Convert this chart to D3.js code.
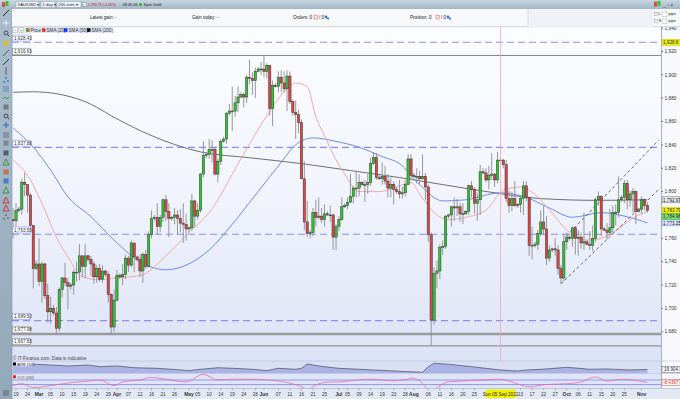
<!DOCTYPE html>
<html>
<head>
<meta charset="utf-8">
<script src="https://cdn.jsdelivr.net/npm/d3@7"></script>
<style>
  body { margin: 0; background: #fff; overflow: hidden; }
  svg { display: block; font-family: "Liberation Sans", Arial, sans-serif; }
</style>
</head>
<body>
<svg id="chart" width="680" height="399"></svg>
<script>
// XAU/USD daily bars (Sun-Fri sessions, 2021): date, open, high, low, close
const bars = [
  ["02-18",1776,1786,1760,1775],["02-19",1775,1790,1770,1784],["02-21",1784,1787,1782,1785],
  ["02-22",1785,1811,1780,1808],["02-23",1808,1816,1796,1806],["02-24",1806,1806,1782,1797],
  ["02-25",1797,1799,1767,1771],["02-26",1771,1771,1717,1734],["02-28",1734,1741,1733,1738],
  ["03-01",1738,1760,1719,1723],["03-02",1723,1740,1705,1738],["03-03",1738,1739,1708,1711],
  ["03-04",1711,1721,1688,1697],["03-05",1697,1710,1687,1700],["03-07",1700,1703,1694,1696],
  ["03-08",1696,1701,1678,1683],["03-09",1683,1718,1680,1716],["03-10",1716,1727,1709,1726],
  ["03-11",1726,1739,1719,1722],["03-12",1722,1726,1699,1719],["03-14",1719,1722,1716,1720],
  ["03-15",1720,1733,1712,1731],["03-16",1731,1740,1723,1731],["03-17",1731,1755,1724,1745],
  ["03-18",1745,1745,1727,1736],["03-19",1736,1755,1726,1745],["03-21",1745,1746,1740,1742],
  ["03-22",1742,1745,1728,1738],["03-23",1738,1740,1721,1727],["03-24",1727,1737,1722,1734],
  ["03-25",1734,1738,1723,1725],["03-26",1725,1737,1722,1732],["03-28",1732,1733,1727,1729],
  ["03-29",1729,1732,1705,1712],["03-30",1712,1713,1677.5,1684],["03-31",1684,1716,1680,1707],
  ["04-01",1707,1733,1706,1728],["04-04",1728,1730,1725,1727],["04-05",1727,1738,1720,1729],
  ["04-06",1729,1746,1725,1743],["04-07",1743,1745,1731,1737],["04-08",1737,1758,1735,1756],
  ["04-09",1756,1756,1731,1744],["04-11",1744,1745,1740,1742],["04-12",1742,1746,1727,1732],
  ["04-13",1732,1748,1722,1746],["04-14",1746,1750,1734,1736],["04-15",1736,1766,1735,1763],
  ["04-16",1763,1784,1760,1777],["04-18",1777,1780,1775,1778],["04-19",1778,1790,1763,1770],
  ["04-20",1770,1780,1765,1778],["04-21",1778,1794,1774,1793],["04-22",1793,1797,1775,1783],
  ["04-23",1783,1790,1761,1777],["04-25",1777,1779,1775,1778],["04-26",1778,1786,1772,1780],
  ["04-27",1780,1784,1763,1777],["04-28",1777,1785,1765,1773],["04-29",1773,1790,1756,1772],
  ["04-30",1772,1781,1758,1768],["05-02",1768,1770,1765,1769],["05-03",1769,1798,1767,1792],
  ["05-04",1792,1793,1770,1779],["05-05",1779,1790,1776,1784],["05-06",1784,1816,1782,1815],
  ["05-07",1815,1843,1812,1831],["05-09",1831,1834,1829,1832],["05-10",1832,1845,1828,1836],
  ["05-11",1836,1844,1825,1836],["05-12",1836,1838,1814,1815],["05-13",1815,1828,1808,1826],
  ["05-14",1826,1845,1823,1843],["05-16",1843,1847,1842,1845],["05-17",1845,1868,1841,1867],
  ["05-18",1867,1875,1865,1869],["05-19",1869,1890,1852,1869],["05-20",1869,1882,1864,1876],
  ["05-21",1876,1890,1868,1881],["05-23",1881,1885,1880,1883],["05-24",1883,1885,1872,1881],
  ["05-25",1881,1900,1876,1898],["05-26",1898,1913,1892,1897],["05-27",1897,1902,1883,1895],
  ["05-28",1895,1906,1880,1903],["05-30",1903,1907,1902,1905],["05-31",1905,1911,1900,1905],
  ["06-01",1905,1916.63,1898,1903],["06-02",1903,1910,1897,1908],["06-03",1908,1908,1865,1871],
  ["06-04",1871,1895,1856,1891],["06-06",1891,1893,1889,1890],["06-07",1890,1903,1885,1898],
  ["06-08",1898,1904,1885,1893],["06-09",1893,1903,1885,1888],["06-10",1888,1904,1869,1899],
  ["06-11",1899,1903,1875,1877],["06-13",1877,1879,1865,1868],["06-14",1868,1878,1845,1866],
  ["06-15",1866,1870,1850,1859],["06-16",1859,1862,1811,1811],["06-17",1811,1826,1767,1774],
  ["06-18",1774,1792,1761,1764],["06-20",1764,1767,1760,1765],["06-21",1765,1786,1762,1782],
  ["06-22",1782,1793,1770,1778],["06-23",1778,1795,1776,1779],["06-24",1779,1786,1773,1776],
  ["06-25",1776,1789,1770,1781],["06-27",1781,1783,1779,1780],["06-28",1780,1788,1774,1780],
  ["06-29",1780,1781,1750,1761],["06-30",1761,1772,1750,1770],["07-01",1770,1779,1766,1776],
  ["07-02",1776,1795,1775,1787],["07-04",1787,1790,1786,1788],["07-05",1788,1795,1785,1791],
  ["07-06",1791,1815,1790,1796],["07-07",1796,1805,1790,1803],["07-08",1803,1818,1795,1803],
  ["07-09",1803,1815,1796,1808],["07-11",1808,1809,1805,1806],["07-12",1806,1810,1791,1806],
  ["07-13",1806,1815,1798,1808],["07-14",1808,1829,1805,1824],["07-15",1824,1834,1823,1829],
  ["07-16",1829,1833,1810,1812],["07-18",1812,1814,1810,1811],["07-19",1811,1825,1806,1813],
  ["07-20",1813,1822,1806,1809],["07-21",1809,1815,1795,1803],["07-22",1803,1812,1795,1806],
  ["07-23",1806,1809,1789,1802],["07-25",1802,1804,1798,1800],["07-26",1800,1810,1794,1798],
  ["07-27",1798,1804,1794,1799],["07-28",1799,1810,1796,1806],["07-29",1806,1832,1806,1828],
  ["07-30",1828,1832,1810,1814],["08-01",1814,1816,1812,1813],["08-02",1813,1820,1807,1813],
  ["08-03",1813,1818,1806,1811],["08-04",1811,1832,1810,1813],["08-05",1813,1816,1793,1804],
  ["08-06",1804,1806,1757,1763],["08-08",1763,1765,1667.83,1690],["08-09",1690,1735,1686,1730],
  ["08-10",1730,1741,1717,1732],["08-11",1732,1755,1725,1752],["08-12",1752,1758,1746,1753],
  ["08-13",1753,1780,1751,1779],["08-15",1779,1781,1777,1780],["08-16",1780,1788,1770,1787],
  ["08-17",1787,1795,1775,1786],["08-18",1786,1794,1779,1787],["08-19",1787,1790,1774,1781],
  ["08-20",1781,1790,1772,1781],["08-22",1781,1784,1780,1783],["08-23",1783,1806,1780,1805],
  ["08-24",1805,1809,1795,1802],["08-25",1802,1804,1781,1790],["08-26",1790,1799,1775,1793],
  ["08-27",1793,1823,1780,1817],["08-29",1817,1820,1815,1816],["08-30",1816,1820,1808,1810],
  ["08-31",1810,1822,1802,1814],["09-01",1814,1833,1810,1815],["09-02",1815,1816,1804,1810],
  ["09-03",1810,1834,1807,1827],["09-05",1827,1829,1826,1827],["09-06",1827,1828,1820,1823],
  ["09-07",1823,1827,1791,1794],["09-08",1794,1801,1782,1788],["09-09",1788,1800,1783,1794],
  ["09-10",1794,1809,1787,1788],["09-12",1788,1790,1786,1789],["09-13",1789,1797,1782,1794],
  ["09-14",1794,1809,1780,1805],["09-15",1805,1809,1792,1795],["09-16",1795,1795,1745,1754],
  ["09-17",1754,1770,1742,1754],["09-19",1754,1757,1752,1755],["09-20",1755,1767,1750,1764],
  ["09-21",1764,1784,1762,1774],["09-22",1774,1788,1763,1768],["09-23",1768,1779,1737,1743],
  ["09-24",1743,1754,1740,1750],["09-26",1750,1752,1748,1751],["09-27",1751,1760,1745,1750],
  ["09-28",1750,1754,1729,1734],["09-29",1734,1737,1721,1726],["09-30",1726,1764,1723,1757],
  ["10-01",1757,1765,1750,1761],["10-03",1761,1763,1758,1760],["10-04",1760,1770,1753,1769],
  ["10-05",1769,1770,1746,1760],["10-06",1760,1767,1745,1761],["10-07",1761,1765,1751,1756],
  ["10-08",1756,1782,1750,1757],["10-10",1757,1759,1754,1755],["10-11",1755,1766,1750,1754],
  ["10-12",1754,1771,1749,1760],["10-13",1760,1795,1757,1793],["10-14",1793,1800,1788,1796],
  ["10-15",1796,1797,1762,1768],["10-17",1768,1770,1766,1767],["10-18",1767,1773,1759,1765],
  ["10-19",1765,1785,1763,1769],["10-20",1769,1788,1765,1782],["10-21",1782,1789,1771,1782],
  ["10-22",1782,1813,1778,1793],["10-24",1793,1797,1791,1795],["10-25",1795,1810,1790,1807],
  ["10-26",1807,1810,1785,1793],["10-27",1793,1801,1787,1798],["10-28",1798,1803,1782,1800],
  ["10-29",1800,1801,1772,1783],["10-31",1783,1786,1782,1785],["11-01",1785,1796,1781,1793],
  ["11-02",1793,1794,1784,1788],["11-03",1788,1791,1782,1783.79]
];

// moving averages
const sma20 = [["02-18",1827],["02-25",1810],["03-02",1790],["03-08",1761],["03-12",1744],["03-18",1727],
  ["03-25",1724.5],["03-31",1726],["04-12",1728],["04-22",1745],["05-02",1765],["05-10",1782],["05-23",1828],
  ["06-02",1865],["06-10",1888],["06-14",1893],["06-18",1890],["06-22",1864],["06-25",1848],["06-29",1832],
  ["07-04",1815],["07-09",1800],["07-18",1800],["07-26",1805],["07-30",1808],["08-03",1798],["08-09",1782],
  ["08-15",1776],["08-22",1778],["08-30",1784],["09-06",1801],["09-13",1804],["09-17",1799.5],["09-26",1781.5],
  ["10-01",1767],["10-10",1758.5],["10-15",1760],["10-31",1780],["11-03",1783]];
const sma50 = [["02-18",1854.5],["02-26",1838],["03-05",1818.5],["03-12",1795.5],["03-22",1778.5],["03-31",1758.5],
  ["04-12",1740],["04-22",1733],["04-30",1737],["05-10",1750],["05-19",1772],["05-28",1797],["06-07",1822],
  ["06-14",1840],["06-21",1846],["06-30",1843],["07-09",1838],["07-19",1830],["07-26",1824],["08-03",1806],
  ["08-12",1792],["08-22",1793],["09-05",1799],["09-15",1795],["09-24",1786],["10-04",1778],["10-15",1782],
  ["10-25",1779],["11-03",1773.25]];
const sma200 = [["02-18",1885],["02-26",1885.5],["03-18",1878],["04-04",1861],["04-15",1849],["05-06",1834],
  ["05-26",1829],["06-16",1824],["07-06",1818],["07-26",1812],["08-12",1806],["08-29",1800.5],["09-21",1794],
  ["10-14",1792.5],["11-03",1792.97]];

const atr14 = [["02-18",30.2],["02-28",28.5],["03-12",25.7],["03-21",27.3],["03-25",24.5],["04-01",25.7],
  ["04-09",22.8],["04-19",21.8],["04-25",20.2],["05-02",17.9],["05-06",20.2],["05-13",22.8],["05-19",21.8],
  ["05-27",20.2],["06-02",17.9],["06-07",21.8],["06-14",20.2],["06-16",21.8],["06-18",29],["06-23",25.7],
  ["06-29",22.8],["07-01",21.8],["07-15",19],["07-29",16.2],["08-04",15.2],["08-06",24.5],["08-09",30.2],
  ["08-15",28.5],["08-24",24.5],["09-05",19],["09-12",17.3],["09-15",19],["09-23",20.7],["10-01",23.5],
  ["10-11",20.2],["10-18",20.7],["10-27",19],["11-03",19.904]];
const cci20 = [["02-18",-150],["02-22",-65],["02-26",-235],["03-05",-150],["03-12",-35],["03-21",50],
  ["03-25",100],["03-31",-150],["04-05",15],["04-12",100],["04-16",215],["04-22",135],["04-30",15],
  ["05-07",350],["05-13",100],["05-19",135],["05-27",135],["06-02",100],["06-09",15],["06-16",-200],
  ["06-18",-315],["06-23",-65],["06-29",15],["07-01",15],["07-08",100],["07-15",135],["07-22",65],
  ["07-29",135],["07-30",185],["08-03",65],["08-08",-400],["08-11",-150],["08-15",15],["08-22",65],
  ["08-29",100],["09-05",135],["09-10",-35],["09-16",-200],["09-23",-100],["10-01",-65],["10-07",15],
  ["10-13",235],["10-18",50],["10-24",135],["10-28",100],["11-03",-8.4367]];

const dashedLevels = [1927.9, 1837.88, 1763.50, 1689.50];
const dashedLabels = ["1,928.43", "1,837.88", "1,763.50", "1,689.50"];
const solidLevels = [1916.63, 1677.98, 1667.83];
const solidLabels = ["1,916.63", "1,677.98", "1,667.83"];

const priceTicks = [1680, 1700, 1720, 1740, 1760, 1780, 1800, 1820, 1840, 1860, 1880, 1900, 1920, 1940];
const hideTicks = [1780];

const tickDates = ["02-19","02-24","03-01","03-05","03-10","03-15","03-19","03-24","03-29","04-01","04-07",
  "04-12","04-16","04-21","04-26","05-02","05-05","05-10","05-14","05-19","05-24","05-28","06-01","06-07",
  "06-11","06-16","06-21","06-25","07-01","07-05","07-09","07-14","07-19","07-23","07-28","08-01","08-06",
  "08-11","08-16","08-20","08-25","09-13","09-17","09-22","09-27","10-01","10-06","10-11","10-15","10-20",
  "10-25","11-01"];
const tickLabels = ["19","24","Mar","05","10","15","19","24","29","Apr","07","12","16","21","26","May","05",
  "10","14","19","24","28","Jun","07","11","16","21","25","Jul","05","09","14","19","23","28","Aug","06",
  "11","16","20","25","13","17","22","27","Oct","06","11","15","20","25","Nov"];

// channel drawn on the chart: start date, price, end date, price
const trendLines = [["09-29", 1721, "11-03", 1792.4], ["10-01", 1762, "11-03", 1834]];

const crosshairDate = "09-05";
const crosshairLabel = "Sun 05 Sep 2021";

// value tags on the right edge
const tagValues = [1927.9, 1792.97, 1783.79, 1773.25];
const tagTexts = ["1,928.8", "1,792.97", "1,783.79", "1,773.25"];

const svg = d3.select("#chart");
const defs = svg.append("defs");

function vgrad(id, stops) {
  const g = defs.append("linearGradient").attr("id", id)
    .attr("x1", 0).attr("y1", 0).attr("x2", 0).attr("y2", 1);
  stops.forEach(s => g.append("stop").attr("offset", s[0]).attr("stop-color", s[1]));
}
vgrad("bgPlot", [[0, "#fcfdff"], [0.5, "#f1f4fc"], [1, "#dce3f6"]]);
vgrad("bgTop", [[0, "#c9d6e1"], [1, "#a2b6c6"]]);
vgrad("bgSell", [[0, "#f26a6a"], [1, "#c92a2a"]]);
vgrad("bgBuy", [[0, "#62d262"], [1, "#23a023"]]);
vgrad("bgTool", [[0, "#a9bccb"], [1, "#93a9ba"]]);

svg.append("rect").attr("width", 680).attr("height", 399).attr("fill", "#e6ebf6");

// ---------- scales
const L = 12, R = 661, T = 27, B = 361;
const x = d3.scaleBand().domain(bars.map(d => d[0])).range([11.68, 648.86]);
const step = x.step();
const cx = d => x(d) + step / 2;
const y = d3.scaleLinear().domain([1680, 1920]).range([331.7, 51.5]);

// ---------- plot background
svg.append("rect").attr("x", L).attr("y", T).attr("width", R - L).attr("height", B - T)
  .attr("fill", "url(#bgPlot)");
svg.append("rect").attr("x", R).attr("y", T).attr("width", 680 - R).attr("height", 388 - T)
  .attr("fill", "#f8f9fd");
svg.append("line").attr("x1", R + 0.5).attr("x2", R + 0.5).attr("y1", T).attr("y2", 388)
  .attr("stroke", "#a8b0c4");

defs.append("clipPath").attr("id", "clip").append("rect")
  .attr("x", L).attr("y", T + 6).attr("width", R - L).attr("height", 352 - T - 6);
const plot = svg.append("g").attr("clip-path", "url(#clip)");

// horizontal levels
plot.selectAll("line.dl").data(dashedLevels).join("line")
  .attr("x1", L).attr("x2", R).attr("y1", d => y(d)).attr("y2", d => y(d))
  .attr("stroke", "#8c8cf2").attr("stroke-width", 1.1).attr("stroke-dasharray", "7,4");
plot.selectAll("line.sl").data(solidLevels).join("line")
  .attr("x1", L).attr("x2", R).attr("y1", d => y(d)).attr("y2", d => y(d))
  .attr("stroke", (d, i) => i === 1 ? "#9a9a9a" : "#808080")
  .attr("stroke-width", (d, i) => i === 1 ? 2.6 : 1);

// crosshair
const chX = Math.round(cx(crosshairDate)) + 0.5;
svg.append("line").attr("x1", chX).attr("x2", chX).attr("y1", T).attr("y2", 388)
  .attr("stroke", "#f2a6b8").attr("stroke-width", 0.8);

// moving averages
const maLine = d3.line().x(d => cx(d[0])).y(d => y(d[1])).curve(d3.curveMonotoneX);
plot.append("path").attr("d", maLine(sma200)).attr("fill", "none").attr("stroke", "#6e6e6e").attr("stroke-width", 1);
plot.append("path").attr("d", maLine(sma50)).attr("fill", "none").attr("stroke", "#5d7ff0").attr("stroke-width", 0.9);
plot.append("path").attr("d", maLine(sma20)).attr("fill", "none").attr("stroke", "#f0a0a0").attr("stroke-width", 0.9);

// channel lines, extended to the right edge
trendLines.forEach(t => {
  const x1 = cx(t[0]), y1 = y(t[1]), x2 = cx(t[2]), y2 = y(t[3]);
  const k = (y2 - y1) / (x2 - x1), xe = R - 2;
  plot.append("line").attr("x1", x1).attr("y1", y1).attr("x2", xe).attr("y2", y1 + k * (xe - x1))
    .attr("stroke", "#555").attr("stroke-width", 0.9).attr("stroke-dasharray", "3,2.5");
});

// candles
const cg = plot.append("g");
cg.selectAll("line").data(bars).join("line")
  .attr("x1", d => cx(d[0])).attr("x2", d => cx(d[0]))
  .attr("y1", d => y(d[2])).attr("y2", d => y(d[3]))
  .attr("stroke", "#8c8c8c").attr("stroke-width", 0.9);
cg.selectAll("rect").data(bars).join("rect")
  .attr("x", d => cx(d[0]) - 1.15).attr("width", 2.3)
  .attr("y", d => y(Math.max(d[1], d[4])))
  .attr("height", d => Math.max(0.8, Math.abs(y(d[1]) - y(d[4]))))
  .attr("fill", d => d[4] >= d[1] ? "#2ec72e" : "#e04646")
  .attr("stroke", "#333").attr("stroke-width", 0.5);

// left level labels
function levelTag(v, txt, border) {
  const ty = y(v);
  svg.append("rect").attr("x", 12.5).attr("y", ty - 7.2).attr("width", 18).attr("height", 6)
    .attr("fill", "#fff").attr("stroke", border).attr("stroke-width", 0.6);
  svg.append("text").attr("x", 14).attr("y", ty - 2.6).attr("font-size", 4.6).attr("fill", "#333").text(txt);
}
dashedLevels.forEach((v, i) => levelTag(v, dashedLabels[i], "#8c8cf2"));
solidLevels.forEach((v, i) => levelTag(v, solidLabels[i], "#888"));

// right price axis
const ax = svg.append("g");
priceTicks.filter(p => !hideTicks.includes(p)).forEach(p => {
  ax.append("line").attr("x1", R).attr("x2", R + 2).attr("y1", y(p)).attr("y2", y(p)).attr("stroke", "#777");
  ax.append("text").attr("x", R + 3.5).attr("y", y(p) + 1.7).attr("font-size", 4.8).attr("fill", "#333")
    .text(d3.format(",")(p));
});
const tagFill = ["#f4f400", "#e9ebf1", "#f4f400", "#dfe6ff"];
const tagStroke = ["#c8c800", "#666", "#c8c800", "#5d7ff0"];
tagValues.forEach((v, i) => {
  ax.append("rect").attr("x", R + 1).attr("y", y(v) - 3).attr("width", 18).attr("height", 6)
    .attr("fill", tagFill[i]).attr("stroke", tagStroke[i]).attr("stroke-width", 0.5);
  ax.append("text").attr("x", R + 2).attr("y", y(v) + 1.7).attr("font-size", 4.6).attr("fill", "#222").text(tagTexts[i]);
});
ax.append("rect").attr("x", R + 1).attr("y", y(1783.79) + 3.2).attr("width", 18).attr("height", 6)
  .attr("fill", "#7ee07e").attr("stroke", "#3a9a3a").attr("stroke-width", 0.5);
ax.append("text").attr("x", R + 2).attr("y", y(1783.79) + 7.9).attr("font-size", 4.6).attr("fill", "#222").text("1,784.96");

// legend strip
const lg = svg.append("g");
lg.append("rect").attr("x", 12).attr("y", 27).attr("width", 100).attr("height", 6).attr("fill", "#dfe6f6");
[[13, "−"], [19, "+"]].forEach(b => {
  lg.append("rect").attr("x", b[0]).attr("y", 27.8).attr("width", 4.5).attr("height", 4.5)
    .attr("fill", "#fff").attr("stroke", "#999").attr("stroke-width", 0.4);
  lg.append("text").attr("x", b[0] + 2.25).attr("y", 31.6).attr("text-anchor", "middle")
    .attr("font-size", 4.5).attr("fill", b[1] === "+" ? "#2a2" : "#c22").text(b[1]);
});
const legendItems = [[26, "Price", "#e04646"], [42, "SMA (20)", "#e83030"], [64, "SMA (50)", "#1030ff"], [87, "SMA (200)", "#000"]];
legendItems.forEach((it, i) => {
  lg.append("rect").attr("x", it[0]).attr("y", 28.3).attr("width", 3.5).attr("height", 3.5).attr("fill", it[2]);
  if (i === 0) lg.append("rect").attr("x", it[0]).attr("y", 28.3).attr("width", 1.75).attr("height", 3.5).attr("fill", "#2ec72e");
  lg.append("text").attr("x", it[0] + 4.5).attr("y", 31.8).attr("font-size", 4.6).attr("fill", "#333").text(it[1]);
});

// footer note
svg.append("text").attr("x", 13).attr("y", 359.5).attr("font-size", 4.6).attr("fill", "#444")
  .text("© IT-Finance.com. Data is indicative");

// ---------- ATR panel
const atrY = d3.scaleLinear().domain([14, 34]).range([373, 361]);
svg.append("rect").attr("x", L).attr("y", 361).attr("width", R - L).attr("height", 12.5).attr("fill", "#d9dff4");
svg.append("line").attr("x1", L).attr("x2", 680).attr("y1", 361).attr("y2", 361).attr("stroke", "#b4bcd8").attr("stroke-width", 0.6);
const atrArea = d3.area().x(d => cx(d[0])).y0(373.3).y1(d => atrY(d[1]));
const atrLine = d3.line().x(d => cx(d[0])).y(d => atrY(d[1]));
svg.append("path").attr("d", atrArea(atr14)).attr("fill", "#abb3e6");
svg.append("path").attr("d", atrLine(atr14)).attr("fill", "none").attr("stroke", "#555a66").attr("stroke-width", 0.8);
svg.append("rect").attr("x", 12).attr("y", 361.5).attr("width", 21).attr("height", 5).attr("fill", "#e8ecf8").attr("stroke", "#aab").attr("stroke-width", 0.3);
svg.append("rect").attr("x", 13).attr("y", 362.5).attr("width", 3).attr("height", 3).attr("fill", "#000");
svg.append("text").attr("x", 17).attr("y", 365.7).attr("font-size", 4.4).attr("fill", "#333").text("ATR (14)");
svg.append("rect").attr("x", R + 1).attr("y", atrY(19.904) - 3).attr("width", 18).attr("height", 6)
  .attr("fill", "#fff").attr("stroke", "#555").attr("stroke-width", 0.5);
svg.append("text").attr("x", R + 3).attr("y", atrY(19.904) + 1.7).attr("font-size", 4.6).attr("fill", "#222").text("19.904");

// ---------- CCI panel
const cciY = d3.scaleLinear().domain([-100, 100]).range([384.5, 380]);
svg.append("rect").attr("x", L).attr("y", 373.5).attr("width", R - L).attr("height", 15).attr("fill", "#dfe5f7");
svg.append("line").attr("x1", L).attr("x2", 680).attr("y1", 373.5).attr("y2", 373.5).attr("stroke", "#b4bcd8").attr("stroke-width", 0.6);
[100, -100].forEach(v => svg.append("line").attr("x1", L).attr("x2", R).attr("y1", cciY(v)).attr("y2", cciY(v))
  .attr("stroke", "#7a86ff").attr("stroke-width", 0.8));
const cciLine = d3.line().x(d => cx(d[0])).y(d => cciY(d[1])).curve(d3.curveMonotoneX);
svg.append("path").attr("d", cciLine(cci20)).attr("fill", "none").attr("stroke", "#f06a98").attr("stroke-width", 0.8);
svg.append("rect").attr("x", 12).attr("y", 374.3).attr("width", 21).attr("height", 5).attr("fill", "#e8ecf8").attr("stroke", "#aab").attr("stroke-width", 0.3);
svg.append("rect").attr("x", 13).attr("y", 375.3).attr("width", 3).attr("height", 3).attr("fill", "#e82020");
svg.append("text").attr("x", 17).attr("y", 378.5).attr("font-size", 4.4).attr("fill", "#333").text("CCI (20)");
svg.append("rect").attr("x", R + 1).attr("y", cciY(-8.4367) - 3).attr("width", 18).attr("height", 6)
  .attr("fill", "#fff").attr("stroke", "#e04040").attr("stroke-width", 0.5);
svg.append("text").attr("x", R + 2).attr("y", cciY(-8.4367) + 1.7).attr("font-size", 4.6).attr("fill", "#d02020").text("-8.4367");

// ---------- date axis
svg.append("rect").attr("x", L).attr("y", 388.5).attr("width", 680 - L).attr("height", 10.5).attr("fill", "#e3e8f5");
svg.append("line").attr("x1", L).attr("x2", 680).attr("y1", 388.5).attr("y2", 388.5).attr("stroke", "#a8b0c4").attr("stroke-width", 0.6);
tickDates.forEach((d, i) => {
  const isMonth = /[A-Za-z]/.test(tickLabels[i]);
  svg.append("line").attr("x1", cx(d)).attr("x2", cx(d)).attr("y1", 388.5).attr("y2", 390.5).attr("stroke", "#777").attr("stroke-width", 0.5);
  svg.append("text").attr("x", cx(d)).attr("y", 396.3).attr("text-anchor", "middle")
    .attr("font-size", isMonth ? 4.9 : 4.6).attr("font-weight", isMonth ? "bold" : "normal")
    .attr("fill", "#333").text(tickLabels[i]);
});
svg.append("rect").attr("x", chX - 15).attr("y", 389.5).attr("width", 30).attr("height", 8.5).attr("fill", "#f2f200");
svg.append("text").attr("x", chX).attr("y", 395.6).attr("text-anchor", "middle").attr("font-size", 4.6)
  .attr("fill", "#222").text(crosshairLabel);

// ---------- left toolbar
svg.append("rect").attr("x", 0).attr("y", 9).attr("width", 12).attr("height", 390).attr("fill", "url(#bgTool)");
svg.append("line").attr("x1", 12).attr("x2", 12).attr("y1", 9).attr("y2", 399).attr("stroke", "#7d93a5").attr("stroke-width", 0.6);
const tools = [[13, "#222", "diag"], [23, "#eee", "plus"], [33, "#333", "glass"], [43, "#e8c000", "rect"],
  [53, "#556", "diag"], [62, "#333", "diag"], [71, "#556", "vline"], [80, "#2a8ae0", "dots"],
  [89, "#2a6ad0", "hline"], [98, "#2a9a2a", "wave"], [107, "#666", "rect"], [116, "#333", "glass"],
  [125, "#2a6ad0", "plus"], [135, "#445", "hline"], [143, "#777", "rect"], [153, "#345", "rect"],
  [162, "#2a9a2a", "tri"], [172, "#d06030", "rect"], [181, "#2a6ad0", "rect"], [190, "#2a9a2a", "tri"],
  [200, "#d02a2a", "tri"], [208, "#d02a2a", "tri"], [217, "#777", "dots"], [393, "#333", "hline"]];
tools.forEach(t => {
  const g = svg.append("g").attr("transform", `translate(6,${t[0]})`);
  if (t[2] === "diag") g.append("line").attr("x1", -3).attr("y1", 3).attr("x2", 3).attr("y2", -3).attr("stroke", t[1]).attr("stroke-width", 1);
  if (t[2] === "plus") { g.append("line").attr("x1", -3).attr("x2", 3).attr("stroke", t[1]); g.append("line").attr("y1", -3).attr("y2", 3).attr("stroke", t[1]); }
  if (t[2] === "glass") { g.append("circle").attr("r", 2).attr("fill", "none").attr("stroke", t[1]).attr("stroke-width", 0.8); g.append("line").attr("x1", 1.5).attr("y1", 1.5).attr("x2", 3.2).attr("y2", 3.2).attr("stroke", t[1]); }
  if (t[2] === "rect") g.append("rect").attr("x", -2.5).attr("y", -2.5).attr("width", 5).attr("height", 5).attr("fill", t[1]).attr("opacity", 0.75);
  if (t[2] === "vline") g.append("line").attr("y1", -3.5).attr("y2", 3.5).attr("stroke", t[1]).attr("stroke-width", 1);
  if (t[2] === "hline") [-2, 0, 2].forEach(v => g.append("line").attr("x1", -3).attr("x2", 3).attr("y1", v).attr("y2", v).attr("stroke", t[1]).attr("stroke-width", 0.6));
  if (t[2] === "dots") [[-2, 2], [0, -2], [2, 1]].forEach(p => g.append("circle").attr("cx", p[0]).attr("cy", p[1]).attr("r", 1.1).attr("fill", t[1]));
  if (t[2] === "wave") g.append("path").attr("d", "M-3,1 L-1,-1 L1,1 L3,-1").attr("fill", "none").attr("stroke", t[1]).attr("stroke-width", 0.9);
  if (t[2] === "tri") g.append("path").attr("d", "M-3,3 L0,-3 L3,3 Z").attr("fill", "none").attr("stroke", t[1]).attr("stroke-width", 0.9);
});

// ---------- header
svg.append("rect").attr("x", 0).attr("y", 0).attr("width", 680).attr("height", 9).attr("fill", "url(#bgTop)");
svg.append("rect").attr("x", 12).attr("y", 9).attr("width", 668).attr("height", 18).attr("fill", "#f6f8fa");
svg.append("line").attr("x1", 12).attr("x2", 680).attr("y1", 26.7).attr("y2", 26.7).attr("stroke", "#b3bfcc").attr("stroke-width", 0.6);
const hd = svg.append("g").attr("font-size", 4.6).attr("fill", "#222");
hd.append("rect").attr("x", 2).attr("y", 2).attr("width", 3).attr("height", 5).attr("fill", "#e04646");
hd.append("rect").attr("x", 5.5).attr("y", 1).attr("width", 3).attr("height", 5).attr("fill", "#2ec72e");
[[16, 23, "XAU/USD ▾", 4.2], [41, 14, "1 day ▾", 4.2], [57, 24, "200 units ▾", 4.0]].forEach(b => {
  hd.append("rect").attr("x", b[0]).attr("y", 1.5).attr("width", b[1]).attr("height", 6)
    .attr("fill", "#eef2f6").attr("stroke", "#7f93a4").attr("stroke-width", 0.4);
  hd.append("text").attr("x", b[0] + 1.5).attr("y", 6).attr("font-size", b[3]).text(b[2]);
});
hd.append("rect").attr("x", 83).attr("y", 2.5).attr("width", 3.5).attr("height", 3.5).attr("fill", "#fff").attr("stroke", "#666").attr("stroke-width", 0.4);
hd.append("text").attr("x", 88).attr("y", 6).attr("font-size", 3.5).attr("fill", "#d01818").text("1,783.79 (-0.26%)");
hd.append("text").attr("x", 122.5).attr("y", 6).attr("font-size", 3.9).text("08:45:46");
hd.append("circle").attr("cx", 140.5).attr("cy", 4.5).attr("r", 1.5).attr("fill", "#1cb51c");
hd.append("text").attr("x", 143.5).attr("y", 6).attr("font-size", 4.0).text("Spot Gold");

hd.append("text").attr("x", 90).attr("y", 19).text("Latest gain: -");
hd.append("text").attr("x", 192).attr("y", 19).text("Gain today: -");
hd.append("text").attr("x", 293).attr("y", 19).text("Orders: 0");
hd.append("text").attr("x", 410).attr("y", 19).text("Position: 0");
[[314, 324], [436, 446]].forEach(p => {
  hd.append("rect").attr("x", p[0]).attr("y", 15.5).attr("width", 3.5).attr("height", 3.5).attr("fill", "#fde").attr("stroke", "#d44").attr("stroke-width", 0.4);
  hd.append("text").attr("x", p[0] + 5).attr("y", 19).text("/ 0");
  hd.append("circle").attr("cx", p[1] + 2).attr("cy", 17).attr("r", 1.4).attr("fill", "#3a70d0");
  hd.append("circle").attr("cx", p[1] + 4).attr("cy", 18.5).attr("r", 1.1).attr("fill", "#3a70d0");
});

// deal ticket
svg.append("rect").attr("x", 528).attr("y", 9).attr("width", 125).attr("height", 18).attr("fill", "#eef1f5");
svg.append("line").attr("x1", 528).attr("x2", 528).attr("y1", 9).attr("y2", 27).attr("stroke", "#c2ccd6").attr("stroke-width", 0.6);
hd.append("rect").attr("x", 530).attr("y", 11).attr("width", 6).attr("height", 5).attr("fill", "#c8d0d8").attr("stroke", "#778").attr("stroke-width", 0.4);
hd.append("rect").attr("x", 530).attr("y", 18).attr("width", 6).attr("height", 5).attr("fill", "#c8d0d8").attr("stroke", "#778").attr("stroke-width", 0.4);
[[550, "Qty"], [572, "Limit"], [597, "Stop"], [614, "Sell"], [638.5, "Buy"]].forEach(l =>
  hd.append("text").attr("x", l[0]).attr("y", 13).attr("text-anchor", "middle").attr("font-size", 4.4).text(l[1]));
hd.append("rect").attr("x", 538).attr("y", 15.5).attr("width", 24).attr("height", 6).attr("fill", "#fff").attr("stroke", "#999").attr("stroke-width", 0.4);
hd.append("text").attr("x", 560.5).attr("y", 20.2).attr("text-anchor", "end").text("1");
[565, 577, 590, 601].forEach((bx, i) => {
  hd.append("rect").attr("x", bx - 5).attr("y", 15).attr("width", 10).attr("height", 10).attr("fill", "#e9edf2").attr("stroke", "#9aa").attr("stroke-width", 0.4);
  hd.append("path").attr("d", `M${bx - 3},${i % 2 ? 22 : 18} l2,-2 l2,2`).attr("fill", "none").attr("stroke", i < 2 ? "#2a9a2a" : "#d02a2a").attr("stroke-width", 0.9);
  hd.append("path").attr("d", `M${bx - 3},${i % 2 ? 18 : 22} l2,2 l2,-2`).attr("fill", "none").attr("stroke", i < 2 ? "#d02a2a" : "#2a9a2a").attr("stroke-width", 0.9);
});
[[603, "url(#bgSell)", "3.6"], [627, "url(#bgBuy)", "3.9"]].forEach(b => {
  hd.append("rect").attr("x", b[0]).attr("y", 14.5).attr("width", 22.5).attr("height", 10.5).attr("rx", 0.8).attr("fill", b[1]);
  hd.append("text").attr("x", b[0] + 2).attr("y", 21.5).attr("font-size", 3.6).attr("fill", "#fff").text("1.78");
  hd.append("text").attr("x", b[0] + 10).attr("y", 23).attr("font-size", 8.5).attr("fill", "#fff").text(b[2]);
});
// window corner
hd.append("rect").attr("x", 654).attr("y", 1.5).attr("width", 3).attr("height", 5).attr("fill", "#e04646");
hd.append("rect").attr("x", 657.5).attr("y", 0.8).attr("width", 3).attr("height", 5).attr("fill", "#2ec72e");
hd.append("text").attr("x", 663).attr("y", 6.5).attr("font-size", 5).attr("fill", "#445").text("_ ▫ ×");
[["L", 12.5], ["S", 19.5]].forEach(c => {
  hd.append("rect").attr("x", 654.5).attr("y", c[1]).attr("width", 3).attr("height", 3).attr("fill", "#fff").attr("stroke", "#777").attr("stroke-width", 0.4);
  hd.append("text").attr("x", 658.5).attr("y", c[1] + 2.8).attr("font-size", 4).text(c[0]);
  hd.append("rect").attr("x", 662).attr("y", c[1] - 0.5).attr("width", 5).attr("height", 4.5).attr("fill", "#fff").attr("stroke", "#999").attr("stroke-width", 0.4);
  hd.append("text").attr("x", 668.5).attr("y", c[1] + 2.8).attr("font-size", 4).text("pips");
});
</script>
</body>
</html>
